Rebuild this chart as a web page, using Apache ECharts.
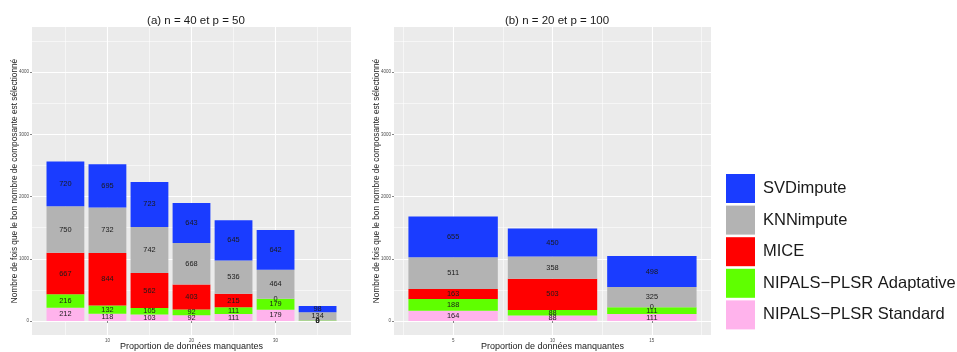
<!DOCTYPE html>
<html>
<head>
<meta charset="utf-8">
<script src="https://cdn.jsdelivr.net/npm/echarts@6/dist/echarts.min.js"></script>
<style>
html,body{margin:0;padding:0;background:#fff;}
#c{width:957px;height:352px;}
</style>
</head>
<body>
<div id="c"></div>
<script>
// Panel (a): n = 40, p = 50
const xA = [5, 10, 15, 20, 25, 30, 35];
const aStandard = [212, 118, 103, 92, 111, 179, 0];
const aAdaptative = [216, 132, 105, 92, 111, 179, 8];
const aMICE = [667, 844, 562, 403, 215, 0, 0];
const aKNN = [750, 732, 742, 668, 536, 464, 134];
const aSVD = [720, 695, 723, 643, 645, 642, 98];

// Panel (b): n = 20, p = 100
const xB = [5, 10, 15];
const bStandard = [164, 88, 111];
const bAdaptative = [188, 88, 111];
const bMICE = [163, 503, 0];
const bKNN = [511, 358, 325];
const bSVD = [655, 450, 498];

const titleA = '(a) n = 40 et p = 50';
const titleB = '(b) n = 20 et p = 100';
const xTitle = 'Proportion de données manquantes';
const yTitle = 'Nombre de fois que le bon nombre de composante est sélectionné';
const yTicks = [0, 1000, 2000, 3000, 4000];
const yMinor = [500, 1500, 2500, 3500, 4500];
const xTicksA = [10, 20, 30];
const xMinorA = [5, 15, 25, 35];
const xTicksB = [5, 10, 15];
const xMinorB = [2.5, 7.5, 12.5, 17.5];
const names = ['NIPALS\u2212PLSR Standard', 'NIPALS\u2212PLSR Adaptative', 'MICE', 'KNNimpute', 'SVDimpute'];
const colors = ['#FFB3EC', '#5FFF00', '#FF0000', '#B3B3B3', '#1A3CFF'];

const FONT = '"Liberation Sans", Arial, Helvetica, sans-serif';
const chart = echarts.init(document.getElementById('c'), null, {renderer: 'canvas'});

const grids = [
  {left: 32, top: 27, width: 319, height: 308, show: true, backgroundColor: '#EBEBEB', borderWidth: 0,
    outerBoundsMode: 'none', containLabel: false},
  {left: 394, top: 27, width: 317, height: 308, show: true, backgroundColor: '#EBEBEB', borderWidth: 0,
    outerBoundsMode: 'none', containLabel: false}
];

function xMain(gi, min, max, ticks) {
  return {
    type: 'value', gridIndex: gi, min: min, max: max, position: 'bottom',
    name: xTitle, nameLocation: 'middle', nameGap: 7, nameMoveOverlap: false,
    nameTextStyle: {fontFamily: FONT, fontSize: 9, color: '#1a1a1a', verticalAlign: 'top'},
    axisLine: {show: false},
    axisTick: {show: true, length: 2, customValues: ticks, lineStyle: {color: '#333', width: 0.6}},
    axisLabel: {show: true, customValues: ticks, fontSize: 4.5, color: '#4D4D4D', fontFamily: FONT, margin: 3,
      formatter: v => String(v)},
    splitLine: {show: true, lineStyle: {color: '#fff', width: 1.1}}
  };
}
function xMinorAx(gi, min, max, ticks) {
  return {
    type: 'value', gridIndex: gi, min: min, max: max, position: 'bottom',
    axisLine: {show: false},
    axisTick: {show: false, customValues: ticks},
    axisLabel: {show: false, customValues: ticks},
    splitLine: {show: true, lineStyle: {color: '#fff', width: 0.55}}
  };
}
function yMain(gi) {
  return {
    type: 'value', gridIndex: gi, min: -225, max: 4725, position: 'left',
    name: yTitle, nameLocation: 'middle', nameGap: 13, nameMoveOverlap: false,
    nameTextStyle: {fontFamily: FONT, fontSize: 8.3, color: '#1a1a1a'},
    axisLine: {show: false},
    axisTick: {show: true, length: 2, customValues: yTicks, lineStyle: {color: '#333', width: 0.6}},
    axisLabel: {show: true, customValues: yTicks, fontSize: 4.5, color: '#4D4D4D', fontFamily: FONT, margin: 3,
      formatter: v => String(v)},
    splitLine: {show: true, lineStyle: {color: '#fff', width: 1.1}}
  };
}
function yMinorAx(gi) {
  return {
    type: 'value', gridIndex: gi, min: -225, max: 4725, position: 'left',
    axisLine: {show: false},
    axisTick: {show: false, customValues: yMinor},
    axisLabel: {show: false, customValues: yMinor},
    splitLine: {show: true, lineStyle: {color: '#fff', width: 0.55}}
  };
}

const xAxes = [
  xMinorAx(0, 1.025, 38.975, xMinorA),
  xMinorAx(1, 2.025, 17.975, xMinorB),
  xMain(0, 1.025, 38.975, xTicksA),
  xMain(1, 2.025, 17.975, xTicksB)
];
const yAxes = [yMinorAx(0), yMinorAx(1), yMain(0), yMain(1)];

function mkSeries(panel, xs, arrs, barW) {
  return arrs.map((arr, i) => ({
    type: 'bar', name: names[i],
    xAxisIndex: panel + 2, yAxisIndex: panel + 2,
    stack: 'p' + panel,
    barWidth: barW,
    dimensions: ['count', 'pct'],
    encode: {x: 'pct', y: 'count'},
    itemStyle: {color: colors[i]},
    label: {show: true, position: 'inside', fontSize: 7.4, color: '#1a1a1a', fontFamily: FONT,
      textBorderWidth: 0, textBorderColor: 'transparent',
      formatter: p => String(p.value[0])},
    labelLayout: {hideOverlap: false},
    emphasis: {disabled: true},
    data: xs.map((x, j) => [arr[j], x])
  }));
}

const series = [].concat(
  mkSeries(0, xA, [aStandard, aAdaptative, aMICE, aKNN, aSVD], 37.8),
  mkSeries(1, xB, [bStandard, bAdaptative, bMICE, bKNN, bSVD], 89.4)
);

chart.setOption({
  animation: false,
  backgroundColor: '#fff',
  title: [
    {text: titleA, left: 191, top: 10, textAlign: 'center', textStyle: {fontFamily: FONT, fontSize: 11.5, fontWeight: 'normal', color: '#1a1a1a'}},
    {text: titleB, left: 552, top: 10, textAlign: 'center', textStyle: {fontFamily: FONT, fontSize: 11.5, fontWeight: 'normal', color: '#1a1a1a'}}
  ],
  legend: {
    orient: 'vertical', left: 726, top: 174, padding: 0,
    itemWidth: 29, itemHeight: 29, itemGap: 2.6, icon: 'rect',
    data: ['SVDimpute', 'KNNimpute', 'MICE', 'NIPALS\u2212PLSR Adaptative', 'NIPALS\u2212PLSR Standard'],
    textStyle: {fontFamily: FONT, fontSize: 16.5, color: '#1a1a1a', padding: [0, 0, 0, 3]},
    selectedMode: false
  },
  grid: grids,
  xAxis: xAxes,
  yAxis: yAxes,
  series: series
});
</script>
</body>
</html>
